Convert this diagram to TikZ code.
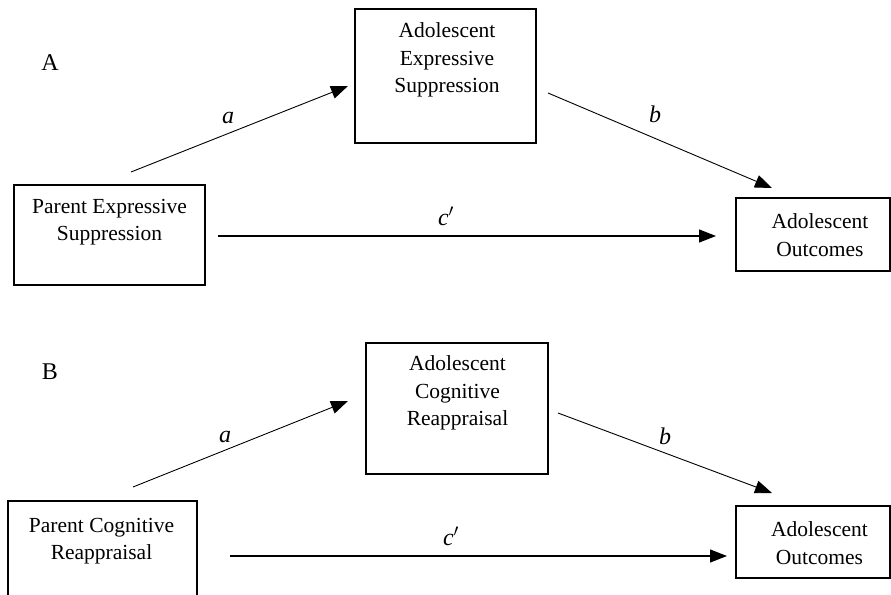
\documentclass[tikz,border=0pt]{standalone}
\usepackage{fontspec}
\setmainfont{Liberation Serif}
\usetikzlibrary{arrows.meta}

\begin{document}
\begin{tikzpicture}[x=1pt,y=-1pt,
    box/.style={draw,line width=1.8pt,inner sep=0pt},
    txt/.style={align=center,inner sep=0pt,font=\fontsize{21.5}{27.5}\selectfont},
    arr/.style={-{Triangle[length=17pt,width=13pt]},line width=0.9pt},
    lbl/.style={inner sep=0pt,font=\fontsize{24}{28}\selectfont\itshape}]
    \useasboundingbox(0,0)rectangle(891,594);
    \clip(0,0)rectangle(891,594);

    % panel A
    \node[txt,font=\fontsize{24}{28}\selectfont](panA)at(50,63){A};
    \node[box,minimum width=191,minimum height=100](pesA)at(109.5,235){};
    \node[box,minimum width=181,minimum height=134](aesA)at(445.5,76){};
    \node[box,minimum width=154,minimum height=73](outA)at(813,234.5){};
    \node[txt](pesAtxt)at(109.5,222){Parent Expressive\\Suppression};
    \node[txt](aesAtxt)at(447,60){Adolescent\\Expressive\\Suppression};
    \node[txt](outAtxt)at(820,235){Adolescent\\Outcomes};

    \coordinate(aAs)at(131,172);\coordinate(aAe)at(348,86);
    \coordinate(bAs)at(548,93);\coordinate(bAe)at(772,188);
    \coordinate(cAs)at(218,236);\coordinate(cAe)at(716,236);
    \draw[arr](aAs)--(aAe);
    \draw[arr](bAs)--(bAe);
    \draw[arr,line width=1.2pt](cAs)--(cAe);
    \node[lbl](aA)at(228,118){a};
    \node[lbl](bA)at(655,114){b};
    \node[lbl](cA)at(446,216){c$'$};

    % panel B
    \node[txt,font=\fontsize{24}{28}\selectfont](panB)at(50,372){B};
    \node[box,minimum width=189,minimum height=100](pcrB)at(102.5,551){};
    \node[box,minimum width=182,minimum height=131](acrB)at(457,408.5){};
    \node[box,minimum width=154,minimum height=72](outB)at(813,542){};
    \node[txt](pcrBtxt)at(101.5,541){Parent Cognitive\\Reappraisal};
    \node[txt](acrBtxt)at(457.5,393){Adolescent\\Cognitive\\Reappraisal};
    \node[txt](outBtxt)at(819.5,543){Adolescent\\Outcomes};

    \coordinate(aBs)at(133,487);\coordinate(aBe)at(348,401);
    \coordinate(bBs)at(558,413);\coordinate(bBe)at(772,493);
    \coordinate(cBs)at(230,556);\coordinate(cBe)at(727,556);
    \draw[arr](aBs)--(aBe);
    \draw[arr](bBs)--(bBe);
    \draw[arr,line width=1.2pt](cBs)--(cBe);
    \node[lbl](aB)at(225,437){a};
    \node[lbl](bB)at(665,436){b};
    \node[lbl](cB)at(451,536){c$'$};
\end{tikzpicture}
\end{document}
